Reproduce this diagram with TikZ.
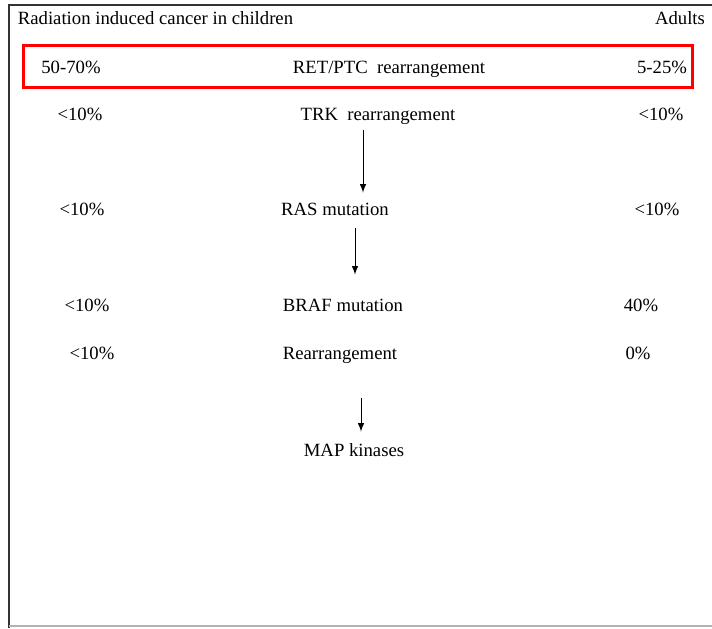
\documentclass[tikz,border=0pt]{standalone}
\usepackage{fontspec}
\setmainfont{Liberation Serif}
\usetikzlibrary{calc}

\begin{document}
\begin{tikzpicture}[x=0.5pt, y=-0.5pt]
	\tikzstyle{every node}=[font=\fontsize{9.35}{11}\selectfont, inner sep=4pt,
		text height=8pt, text depth=1pt]
	\tikzstyle{flow}=[->, >=latex, line width=0.5pt]
	\tikzstyle{frame}=[line width=1pt, black!80]
	\tikzstyle{mark box}=[red, line width=1.5pt]

	\useasboundingbox (0,0) rectangle (712,628);
	\fill[white] (0,0) rectangle (712,628);
	\draw[frame] (712,5) -- (9,5) -- (9,628);
	\draw[gray!60, line width=1pt] (9,626) -- (712,626);

	\node (title) at (155.5,17) {Radiation induced cancer in children};
	\node (adults) at (680,17) {Adults};

	% highlighted row
	\draw[mark box] (23,45) rectangle (692,87);
	\node (retL) at (71,66) {50-70\%};
	\node (ret) at (389,66) {RET/PTC\ \ rearrangement};
	\node (retR) at (662,66) {5-25\%};

	\node (trkL) at (80,113) {<10\%};
	\node (trk) at (378,113) {TRK\ \ rearrangement};
	\node (trkR) at (661,113) {<10\%};

	\node (rasL) at (82,208) {<10\%};
	\node (ras) at (335,208) {RAS mutation};
	\node (rasR) at (657,208) {<10\%};

	\node (brafL) at (87,304) {<10\%};
	\node (braf) at (343,304) {BRAF mutation};
	\node (brafR) at (641,304) {40\%};

	\node (rearL) at (92,352) {<10\%};
	\node (rear) at (340,352) {Rearrangement};
	\node (rearR) at (638,352) {0\%};

	\node (map) at (354,449) {MAP kinases};

	\draw[flow, shorten >=-1pt] ([xshift=-7.5pt]trk.south) --
		([xshift=-7.5pt]trk.south |- ras.north);
	\draw[flow, shorten <=1.5pt, shorten >=6pt] ([xshift=10pt]ras.south) --
		([xshift=10pt]ras.south |- braf.north);
	\draw[flow, shorten <=14.5pt, shorten >=0pt] ([xshift=10.5pt]rear.south) --
		([xshift=10.5pt]rear.south |- map.north);
\end{tikzpicture}
\end{document}
